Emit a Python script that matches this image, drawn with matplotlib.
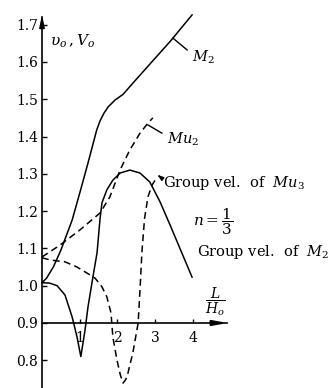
import matplotlib
matplotlib.use("Agg")
import matplotlib.pyplot as plt

plt.rcParams['font.family'] = ['DejaVu Serif']
plt.rcParams['mathtext.fontset'] = 'dejavuserif'

# Dimensionless wave length L/Ho
m2_x = [0, 0.12, 0.3, 0.5, 0.8, 1.0, 1.22, 1.45, 1.54, 1.64, 1.76, 1.94, 2.15, 2.41, 2.86, 3.4, 3.98]
m2_v = [1.008, 1.02, 1.05, 1.095, 1.176, 1.248, 1.329, 1.417, 1.442, 1.462, 1.48, 1.498, 1.513, 1.543,
        1.594, 1.655, 1.726]

m2_group_x = [0, 0.2, 0.4, 0.61, 0.8, 0.93, 1.03, 1.14, 1.22, 1.35, 1.46, 1.54, 1.59, 1.72, 1.88,
              2.07, 2.33, 2.6, 2.86, 3.13, 3.4, 3.98]
m2_group_v = [1.008, 1.007, 1.0, 0.975, 0.916, 0.862, 0.81, 0.88, 0.943, 1.023, 1.088, 1.18, 1.222, 1.257,
              1.283, 1.302, 1.31, 1.302, 1.278, 1.225, 1.162, 1.023]

mu2_x = [0, 0.48, 1.0, 1.54, 1.8, 2.07, 2.33, 2.6, 2.81, 2.94]
mu2_v = [1.077, 1.109, 1.149, 1.195, 1.238, 1.31, 1.364, 1.409, 1.436, 1.45]

mu2_group_x = [0, 0.21, 0.61, 0.93, 1.19, 1.41, 1.59, 1.72, 1.83, 1.88, 1.99, 2.08, 2.15, 2.22, 2.28,
               2.41, 2.55, 2.6, 2.65, 2.72, 2.81, 2.92, 3.05]
mu2_group_v = [1.075, 1.069, 1.064, 1.05, 1.034, 1.02, 0.997, 0.97, 0.927, 0.862, 0.80, 0.76, 0.739,
               0.748, 0.766, 0.82, 0.9, 0.99, 1.09, 1.18, 1.238, 1.27, 1.291]

y_ticks = [0.8, 0.9, 1.0, 1.1, 1.2, 1.3, 1.4, 1.5, 1.6, 1.7]
x_ticks = [1, 2, 3, 4]

fig = plt.figure(figsize=(3.3, 3.88), dpi=100)
ax = fig.add_axes([0, 0, 1, 1])
ax.set_xlim(-1.114, 7.639)
ax.set_ylim(0.7257, 1.766)

lw = 1.1
ax.plot(m2_x, m2_v, color='black', lw=lw)
ax.plot(m2_group_x, m2_group_v, color='black', lw=lw)
ax.plot(mu2_x, mu2_v, color='black', lw=lw, ls=(0, (4.5, 2.8)))
ax.plot(mu2_group_x, mu2_group_v, color='black', lw=lw, ls=(0, (4.5, 2.8)))

# axes through the origin (0, 0.9)
for s in ['top', 'right']:
    ax.spines[s].set_visible(False)
ax.spines['left'].set_position(('data', 0))
ax.spines['bottom'].set_position(('data', 0.9))
ax.spines['left'].set_bounds(0.7257, 1.72)
ax.spines['bottom'].set_bounds(0, 4.9)
ax.spines['left'].set_linewidth(1.2)
ax.spines['bottom'].set_linewidth(1.2)
ax.annotate('', xy=(0, 1.734), xytext=(0, 1.69),
            arrowprops=dict(arrowstyle='-|>,head_length=0.7,head_width=0.15', color='black', lw=1.2))
ax.annotate('', xy=(4.99, 0.9), xytext=(4.5, 0.9),
            arrowprops=dict(arrowstyle='-|>,head_length=0.8,head_width=0.15', color='black', lw=1.5))

ax.set_yticks(y_ticks)
ax.set_yticklabels([f'{t:.1f}' for t in y_ticks])
ax.set_xticks(x_ticks)
ax.set_xticklabels([str(t) for t in x_ticks])
ax.tick_params(axis='y', direction='in', length=3.5, width=1.0, pad=3, labelsize=10)
ax.tick_params(axis='x', direction='in', length=3, width=1.0, pad=6, labelsize=10)

# labels and annotations
ax.text(0.21, 1.656, r'$\upsilon_o\,,V_o$', fontsize=11, va='center', ha='left')
ax.text(4.59, 0.956, r'$\dfrac{L}{H_o}$', fontsize=10, va='center', ha='center')

ax.plot([3.47, 3.85], [1.664, 1.632], color='black', lw=1.0)
ax.text(3.98, 1.613, r'$\boldsymbol{M_2}$', fontsize=10.5, va='center', ha='left')

ax.plot([2.81, 3.18], [1.431, 1.409], color='black', lw=1.0)
ax.text(3.32, 1.393, r'$Mu_2$', fontsize=10.5, va='center', ha='left')

ax.annotate('', xy=(3.0, 1.302), xytext=(3.18, 1.288),
            arrowprops=dict(arrowstyle='-|>,head_length=0.35,head_width=0.12', color='black', lw=1.0))
ax.text(3.21, 1.265, r'Group vel.  of  $Mu_3$', fontsize=10.5, va='baseline', ha='left')
ax.text(4.0, 1.171, r'$n=\dfrac{1}{3}$', fontsize=11, va='center', ha='left')
ax.text(4.11, 1.08, r'Group vel.  of  $M_2$', fontsize=10.5, va='baseline', ha='left')

fig.savefig('out.png', dpi=100)
